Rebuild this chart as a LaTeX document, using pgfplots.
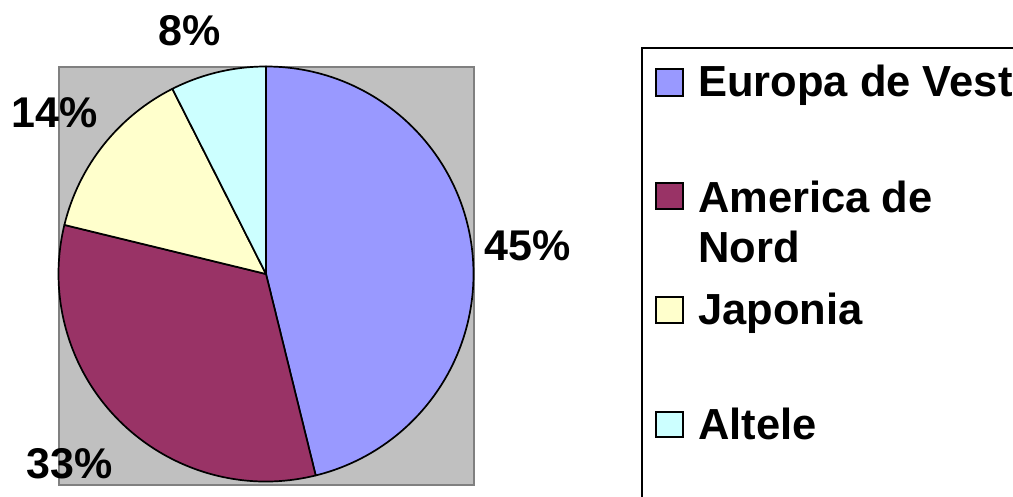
\documentclass[border=0pt]{standalone}
\usepackage{pgfplots}
\usepackage{pgfplotstable}
\pgfplotsset{compat=1.18}
\usepackage{fontspec}
\setmainfont{Liberation Sans}
\definecolor{cEur}{HTML}{9999FF}
\definecolor{cAme}{HTML}{993366}
\definecolor{cJap}{HTML}{FFFFCC}
\definecolor{cAlt}{HTML}{CCFFFF}
\definecolor{plotbg}{HTML}{C0C0C0}
\definecolor{plotbd}{HTML}{808080}
\pgfplotstableread{
region value
Europa 46.15
America 32.65
Japonia 13.75
Altele 7.45
}\piedata
\begin{document}
\begin{tikzpicture}
\pgfplotstablegetelem{0}{value}\of\piedata \let\vA\pgfplotsretval
\pgfplotstablegetelem{1}{value}\of\piedata \let\vB\pgfplotsretval
\pgfplotstablegetelem{2}{value}\of\piedata \let\vC\pgfplotsretval
\pgfplotstablegetelem{3}{value}\of\piedata \let\vD\pgfplotsretval
\pgfmathsetmacro\aA{90-3.6*\vA}
\pgfmathsetmacro\aB{\aA-3.6*\vB}
\pgfmathsetmacro\aC{\aB-3.6*\vC}
\pgfmathsetmacro\aD{\aC-3.6*\vD}
\begin{axis}[x=1pt, y=1pt, xmin=0, xmax=1013, ymin=0, ymax=497,
  hide axis, clip=true]
\path (axis cs:0,0) rectangle (axis cs:1013,497);
% plot area
\filldraw[fill=plotbg, draw=plotbd, line width=2pt] (axis cs:59,12) rectangle (axis cs:474,430);
% slices
\filldraw[fill=cEur, draw=black, line width=1.7pt, line join=round] (axis cs:266,223) -- ++(90:207.5pt) arc[start angle=90, end angle=\aA, radius=207.5pt] -- cycle;
\filldraw[fill=cAme, draw=black, line width=1.7pt, line join=round] (axis cs:266,223) -- ++(\aA:207.5pt) arc[start angle=\aA, end angle=\aB, radius=207.5pt] -- cycle;
\filldraw[fill=cJap, draw=black, line width=1.7pt, line join=round] (axis cs:266,223) -- ++(\aB:207.5pt) arc[start angle=\aB, end angle=\aC, radius=207.5pt] -- cycle;
\filldraw[fill=cAlt, draw=black, line width=1.7pt, line join=round] (axis cs:266,223) -- ++(\aC:207.5pt) arc[start angle=\aC, end angle=\aD, radius=207.5pt] -- cycle;
% percentage labels
\begin{scope}[every node/.style={font=\fontsize{43}{49}\selectfont\bfseries, inner sep=0pt, anchor=base}]
\node at (axis cs:190,451) {8\%};
\node at (axis cs:55,369) {14\%};
\node at (axis cs:70,18) {33\%};
\node at (axis cs:528,236) {45\%};
\end{scope}
% legend
\draw[black, line width=1.8pt] (axis cs:642,-20) rectangle (axis cs:1040,449);
\filldraw[fill=cEur, draw=black, line width=1.6pt] (axis cs:656,401) rectangle (axis cs:683,428);
\filldraw[fill=cAme, draw=black, line width=1.6pt] (axis cs:656,288) rectangle (axis cs:683,314);
\filldraw[fill=cJap, draw=black, line width=1.6pt] (axis cs:656,174) rectangle (axis cs:683,200);
\filldraw[fill=cAlt, draw=black, line width=1.6pt] (axis cs:656,60) rectangle (axis cs:683,85);
\begin{scope}[every node/.style={font=\fontsize{43.5}{50}\selectfont\bfseries, inner sep=0pt, anchor=base west}]
\node at (axis cs:698,400) {Europa de Vest};
\node at (axis cs:698,284) {America de};
\node at (axis cs:698,234) {Nord};
\node at (axis cs:698,172) {Japonia};
\node at (axis cs:698,57) {Altele};
\end{scope}
\end{axis}
\end{tikzpicture}
\end{document}
